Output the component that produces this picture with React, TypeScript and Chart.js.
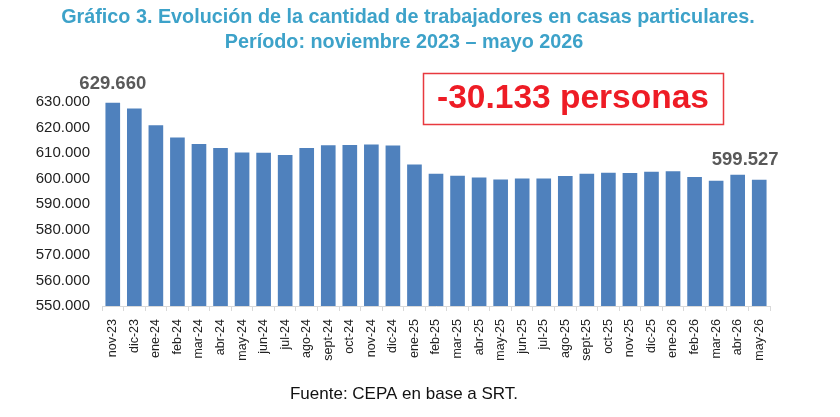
import { useEffect, useRef } from "react";
import { Chart, registerables } from "chart.js";

Chart.register(...registerables);

const months = [
  "nov-23", "dic-23", "ene-24", "feb-24", "mar-24", "abr-24", "may-24", "jun-24",
  "jul-24", "ago-24", "sept-24", "oct-24", "nov-24", "dic-24", "ene-25", "feb-25",
  "mar-25", "abr-25", "may-25", "jun-25", "jul-25", "ago-25", "sept-25", "oct-25",
  "nov-25", "dic-25", "ene-26", "feb-26", "mar-26", "abr-26", "may-26",
];

const workers = [
  629660, 627500, 620900, 616100, 613500, 612000, 610200, 610100,
  609200, 612000, 613000, 613100, 613300, 612900, 605500, 601900,
  601100, 600400, 599600, 600000, 600000, 601000, 601900, 602300,
  602200, 602600, 602800, 600600, 599100, 601500, 599527,
];

const titleLines = [
  "Gráfico 3. Evolución de la cantidad de trabajadores en casas particulares.",
  "Período: noviembre 2023 – mayo 2026",
];
const footnote = "Fuente: CEPA en base a SRT.";
const highlight = "-30.133 personas";

// thousands with a dot, like es-AR
const fmt = (v: number) => String(Math.round(v)).replace(/\B(?=(\d{3})+(?!\d))/g, ".");

const FONT = "Arial, 'Liberation Sans', sans-serif";

const decorations = {
  id: "decorations",
  afterDraw(chart: Chart) {
    const ctx = chart.ctx;
    ctx.save();

    // title
    ctx.fillStyle = "#3DA2C9";
    ctx.font = `bold 19.8px ${FONT}`;
    ctx.textAlign = "center";
    ctx.textBaseline = "middle";
    ctx.fillText(titleLines[0], 408, 18);
    ctx.fillText(titleLines[1], 404, 43);

    // end labels on first and last bar
    const meta = chart.getDatasetMeta(0);
    const first = meta.data[0] as any;
    const last = meta.data[meta.data.length - 1] as any;
    ctx.fillStyle = "#595959";
    ctx.font = `bold 18.5px ${FONT}`;
    ctx.fillText(fmt(workers[0]), first.x, first.y - 19);
    ctx.fillText(fmt(workers[workers.length - 1]), last.x - 14, last.y - 20);

    // red callout box
    ctx.strokeStyle = "#E8393F";
    ctx.lineWidth = 1.5;
    ctx.strokeRect(423.5, 73.5, 300, 51);
    ctx.fillStyle = "#EE1C25";
    ctx.font = `bold 33.5px ${FONT}`;
    ctx.fillText(highlight, 573, 99);

    // source
    ctx.fillStyle = "#111";
    ctx.font = `17px ${FONT}`;
    ctx.fillText(footnote, 404, 394);

    ctx.restore();
  },
};

export default function App() {
  const canvasRef = useRef<HTMLCanvasElement | null>(null);

  useEffect(() => {
    const ctx = canvasRef.current?.getContext("2d");
    if (!ctx) return;

    const chart = new Chart(ctx, {
      type: "bar",
      data: {
        labels: months,
        datasets: [
          {
            data: workers,
            backgroundColor: "#4F81BD",
            barPercentage: 0.68,
            categoryPercentage: 1,
          },
        ],
      },
      options: {
        responsive: true,
        maintainAspectRatio: false,
        animation: false,
        layout: { padding: { left: 0, right: 70, top: 102, bottom: 0 } },
        plugins: {
          legend: { display: false },
          tooltip: { enabled: false },
        },
        scales: {
          x: {
            grid: {
              drawOnChartArea: false,
              drawTicks: true,
              tickLength: 5,
              color: "#D9D9D9",
            },
            border: { color: "#D9D9D9" },
            ticks: {
              minRotation: 90,
              maxRotation: 90,
              autoSkip: false,
              padding: 8,
              color: "#222",
              font: { family: FONT, size: 12.5 },
            },
            afterFit: (scale: any) => {
              scale.height = 111;
            },
          },
          y: {
            min: 550000,
            max: 630000,
            grid: { display: false },
            border: { display: false },
            ticks: {
              stepSize: 10000,
              padding: 4,
              color: "#222",
              font: { family: FONT, size: 15 },
              callback: (v: any) => fmt(Number(v)),
            },
            afterFit: (scale: any) => {
              scale.width = 102;
            },
          },
        },
      },
      plugins: [decorations],
    });

    return () => chart.destroy();
  }, []);

  return (
    <div style={{ position: "absolute", left: 0, top: 0, width: 840, height: 417, background: "#fff" }}>
      <canvas ref={canvasRef}></canvas>
    </div>
  );
}
